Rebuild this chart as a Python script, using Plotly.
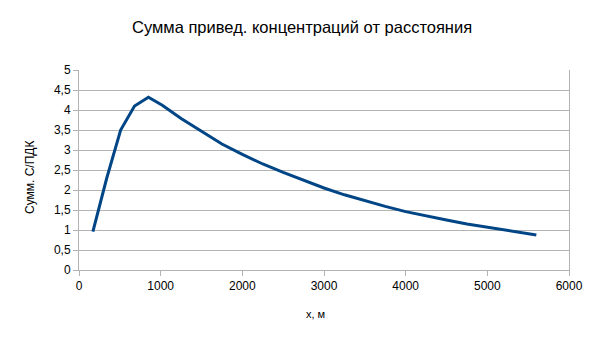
import plotly.graph_objects as go

x_m = [170, 340, 510, 680, 850, 1020, 1250, 1500, 1750, 2000, 2250, 2500, 2750,
       3000, 3250, 3500, 3750, 4000, 4250, 4500, 4750, 5000, 5250, 5600]
sum_c_pdk = [0.96, 2.3, 3.5, 4.1, 4.32, 4.12, 3.79, 3.46, 3.15, 2.89, 2.65, 2.44, 2.24,
             2.05, 1.88, 1.73, 1.59, 1.46, 1.35, 1.25, 1.15, 1.07, 0.99, 0.875]

title_text = "Сумма привед. концентраций от расстояния"
x_title = "x, м"
y_title = "Сумм. С/ПДК"
y_ticks = [0, 0.5, 1, 1.5, 2, 2.5, 3, 3.5, 4, 4.5, 5]
x_ticks = [0, 1000, 2000, 3000, 4000, 5000, 6000]

FONT = "Liberation Sans, Arial, sans-serif"
GRID = "#b3b3b3"

L, R, T, B = 79, 569, 70, 270


def px(xp):
    return (xp - L) / (R - L)


def py(yp):
    return (B - yp) / (B - T)


fig = go.Figure()
fig.add_trace(go.Scatter(x=x_m, y=sum_c_pdk, mode="lines",
                         line=dict(color="#004586", width=3), showlegend=False))

fig.update_layout(
    width=605, height=340,
    margin=dict(l=L, r=605 - R, t=T, b=340 - B),
    paper_bgcolor="white", plot_bgcolor="white",
    separators=", ",
    font=dict(family=FONT, size=12, color="#000000"),
    xaxis=dict(range=[0, 6000], tickvals=x_ticks, showgrid=False, zeroline=False,
               showline=True, linecolor=GRID, linewidth=1,
               ticks="outside", ticklen=5, tickcolor=GRID,
               tickfont=dict(size=12, color="#000000")),
    yaxis=dict(range=[0, 5], tickvals=y_ticks, showgrid=True, gridcolor=GRID, gridwidth=1,
               zeroline=False, showline=True, linecolor=GRID, linewidth=1, mirror=True,
               ticks="outside", ticklen=5, tickcolor=GRID,
               tickfont=dict(size=12, color="#000000")),
    annotations=[
        dict(text=title_text, x=px(302), y=py(27), xref="paper", yref="paper",
             xanchor="center", yanchor="middle", showarrow=False,
             font=dict(size=16.5, family=FONT, color="#000000")),
        dict(text=x_title, x=px(315.5), y=py(314), xref="paper", yref="paper",
             xanchor="center", yanchor="middle", showarrow=False,
             font=dict(size=11, family=FONT, color="#000000")),
        dict(text=y_title, x=px(30), y=py(178), xref="paper", yref="paper",
             xanchor="center", yanchor="middle", showarrow=False, textangle=-90,
             font=dict(size=12, family=FONT, color="#000000")),
    ],
)

fig.write_html("out.html")
